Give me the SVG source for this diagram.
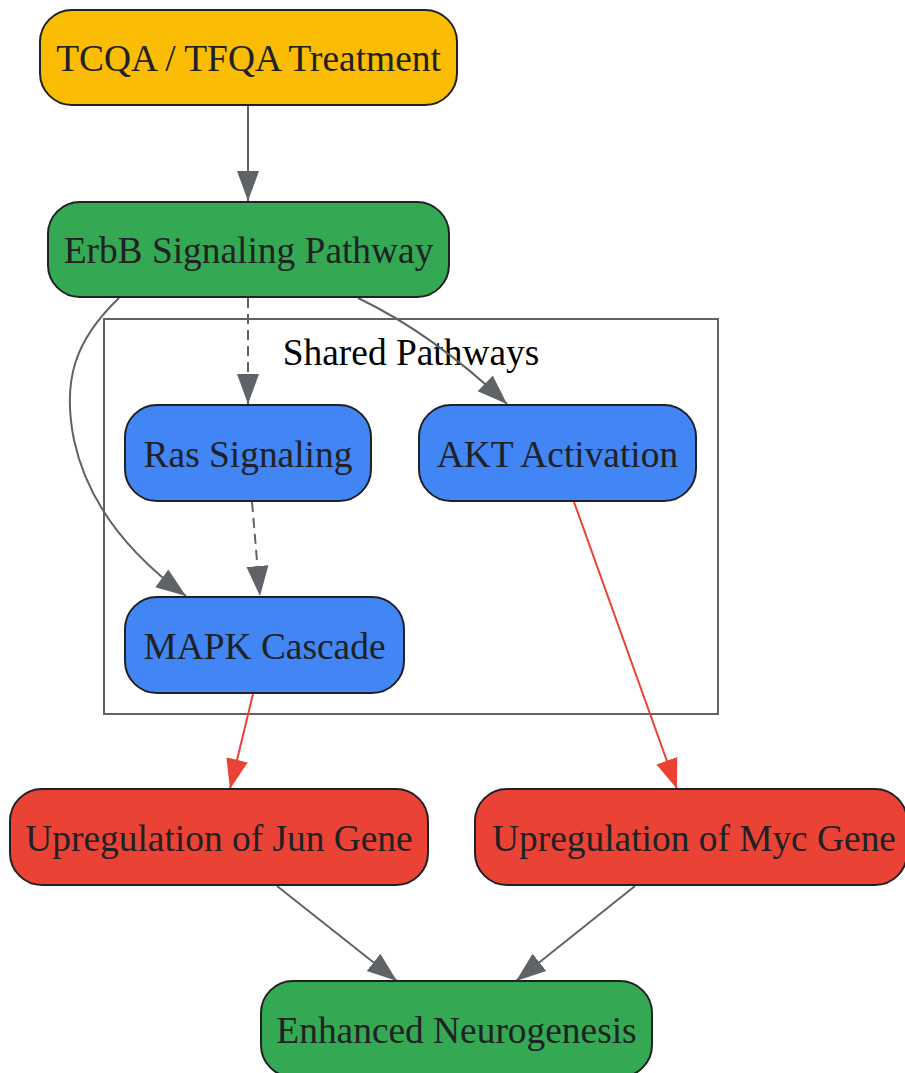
<svg xmlns="http://www.w3.org/2000/svg" width="905" height="1073" viewBox="0 0 905 1073">
<style>
.n{stroke:#202124;stroke-width:2}
.t{font-family:"Liberation Serif","Times New Roman",serif;font-size:37.4px;fill:#202124;text-anchor:middle}
.e{fill:none;stroke:#5f6368;stroke-width:2}
.r{fill:none;stroke:#ea4335;stroke-width:2}
.d{stroke-dasharray:10,6}
</style>
<defs>
<marker id="ag" markerUnits="userSpaceOnUse" markerWidth="32" markerHeight="24" viewBox="0 0 32 24" refX="30" refY="12" orient="auto"><path d="M0,1 L30,12 L0,23 Z" fill="#5f6368"/></marker>
<marker id="ar" markerUnits="userSpaceOnUse" markerWidth="32" markerHeight="24" viewBox="0 0 32 24" refX="30" refY="12" orient="auto"><path d="M0,1 L30,12 L0,23 Z" fill="#ea4335"/></marker>
</defs>
<rect width="905" height="1073" fill="#fff"/>
<g id="cluster_shared">
<rect x="104" y="319" width="614" height="395" fill="none" stroke="#5f6368" stroke-width="2"/>
<text x="411" y="365" style="font-family:'Liberation Serif','Times New Roman',serif;font-size:37.4px;fill:#000;text-anchor:middle">Shared Pathways</text>
</g>
<g id="edges">
<path class="e" d="M248,105 L248,201" marker-end="url(#ag)"/>
<path class="e d" d="M248,298 L248,404" marker-end="url(#ag)"/>
<path class="e" d="M358,298 C400,318 450,350 507,404" marker-end="url(#ag)"/>
<path class="e" d="M119,298 C75,340 62,380 74,440 C88,505 130,555 186,596" marker-end="url(#ag)"/>
<path class="e d" d="M252,502 L260,596" marker-end="url(#ag)"/>
<path class="r" d="M253,694 L230,789" marker-end="url(#ar)"/>
<path class="r" d="M574,502 L677,789" marker-end="url(#ar)"/>
<path class="e" d="M277,886 L397,981" marker-end="url(#ag)"/>
<path class="e" d="M635,886 L516,981" marker-end="url(#ag)"/>
</g>
<g id="tcqa"><rect class="n" x="40" y="10" width="417" height="95" rx="32" fill="#fbbc04"/><text class="t" x="248.5" y="71">TCQA / TFQA Treatment</text></g>
<g id="erbb"><rect class="n" x="48" y="202" width="401" height="95" rx="32" fill="#34a853"/><text class="t" x="248.5" y="263">ErbB Signaling Pathway</text></g>
<g id="ras"><rect class="n" x="125" y="405" width="246" height="96" rx="32" fill="#4285f4"/><text class="t" x="248" y="467">Ras Signaling</text></g>
<g id="akt"><rect class="n" x="419" y="405" width="277" height="96" rx="32" fill="#4285f4"/><text class="t" x="557.5" y="467">AKT Activation</text></g>
<g id="mapk"><rect class="n" x="125" y="597" width="279" height="96" rx="32" fill="#4285f4"/><text class="t" x="264.5" y="659">MAPK Cascade</text></g>
<g id="jun"><rect class="n" x="10" y="789" width="418" height="96" rx="32" fill="#ea4335"/><text class="t" x="219" y="851">Upregulation of Jun Gene</text></g>
<g id="myc"><rect class="n" x="475" y="789" width="432" height="96" rx="32" fill="#ea4335"/><text class="t" x="694" y="851">Upregulation of Myc Gene</text></g>
<g id="neuro"><rect class="n" x="261" y="981" width="391" height="96" rx="32" fill="#34a853"/><text class="t" x="456.5" y="1043">Enhanced Neurogenesis</text></g>
</svg>
